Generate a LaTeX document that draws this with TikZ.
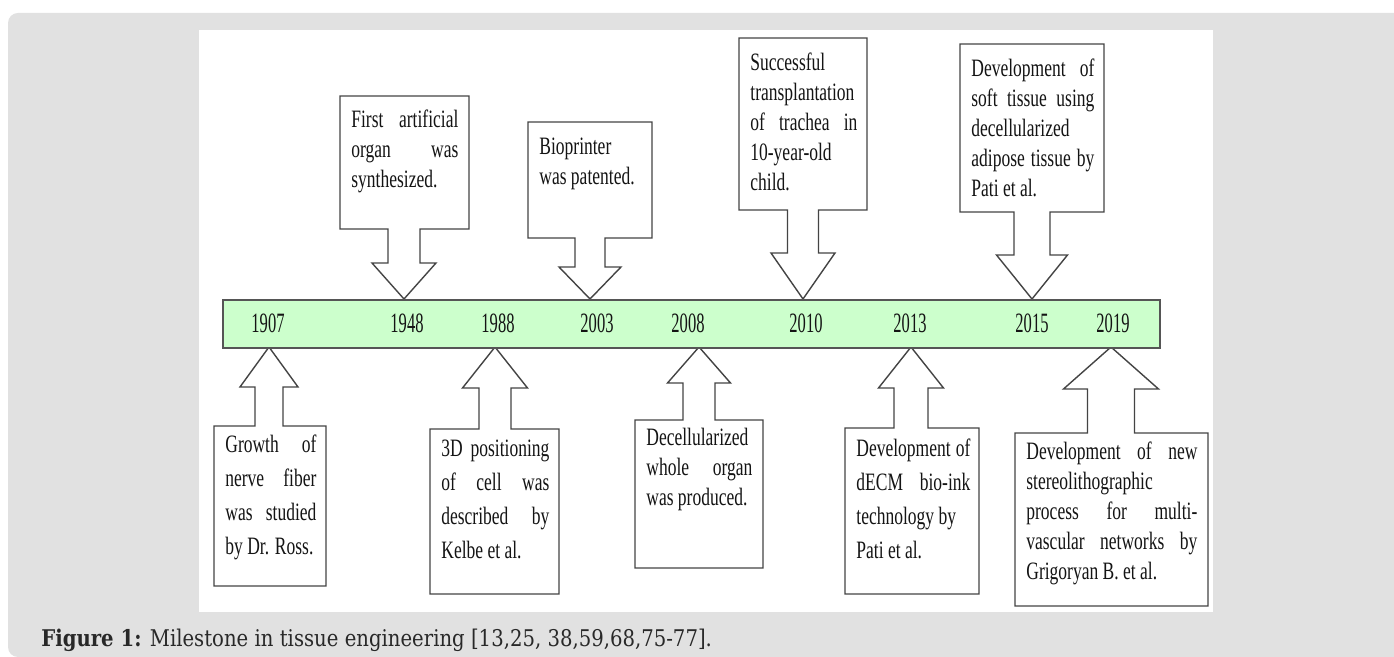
\documentclass[tikz,border=0pt]{standalone}
\usepackage{fontspec}
\setmainfont{Liberation Serif}
\newfontfamily\evfont[FakeStretch=0.70]{Liberation Serif}
\newfontfamily\yrfont[FakeStretch=0.59]{Liberation Serif}
\newfontfamily\capfont[FakeStretch=0.855]{DejaVu Serif}

\definecolor{bggray}{RGB}{225,225,225}
\definecolor{barfill}{RGB}{204,255,204}
\definecolor{bargray}{RGB}{85,85,85}
\definecolor{linegray}{RGB}{68,68,68}
\definecolor{txtgray}{RGB}{20,20,20}
\definecolor{capgray}{RGB}{40,40,40}

\tolerance=10000
\hbadness=10000
\hyphenpenalty=10000

\begin{document}
\begin{tikzpicture}[x=0.5pt,y=-0.5pt,
    evtxt/.style={anchor=base west,inner sep=0pt,align=justify,text=txtgray,
        font=\evfont\fontsize{12.5}{15}\selectfont},
    evwide/.style={evtxt,font=\evfont\fontsize{12.5}{17}\selectfont},
    yearlbl/.style={anchor=base,inner sep=0pt,text=txtgray,
        font=\yrfont\fontsize{14}{15}\selectfont},
    callout/.style={draw=linegray,line width=0.7pt,fill=white}]
    \useasboundingbox (0,0) rectangle (1394,657);
    \clip (0,0) rectangle (1394,657);
    \fill[white] (0,0) rectangle (1394,657);
    \fill[bggray,rounded corners=5pt] (8,13) rectangle (1420,657);
    \fill[white] (199,30) rectangle (1213,612);

    % callouts above the bar, pointing down
    \foreach \xa/\xb/\ya/\yb/\tx/\sw/\hw/\hy in {340/469/96/229/404/16/32/263,
            528/652/122/238/590/15/31/267,
            739/867/38/210/803/15.5/32/253,
            960/1104/44/212/1032/18/35.5/255} {
        \draw[callout] (\xa,\ya) -- (\xb,\ya) -- (\xb,\yb) -- (\tx+\sw,\yb)
            -- (\tx+\sw,\hy) -- (\tx+\hw,\hy) -- (\tx,299) -- (\tx-\hw,\hy)
            -- (\tx-\sw,\hy) -- (\tx-\sw,\yb) -- (\xa,\yb) -- cycle;
    }
    % callouts below the bar, pointing up
    \foreach \xa/\xb/\ya/\yb/\tx/\sw/\hw/\hy in {214/326/426/586/269/14/29/387,
            430/559/429/594/495/16/32.5/388,
            635/763/420/568/699/16/31.5/383,
            845/979/428/594/911/17/32.5/388,
            1015/1208/433/606/1111/23.5/47.5/389} {
        \draw[callout] (\xa,\ya) -- (\tx-\sw,\ya) -- (\tx-\sw,\hy) -- (\tx-\hw,\hy)
            -- (\tx,347) -- (\tx+\hw,\hy) -- (\tx+\sw,\hy) -- (\tx+\sw,\ya)
            -- (\xb,\ya) -- (\xb,\yb) -- (\xa,\yb) -- cycle;
    }

    % time bar
    \node[draw=bargray,fill=barfill,line width=1pt,inner sep=0pt,anchor=north west,
        minimum width=468.5pt,minimum height=24pt] (bar) at (222,299) {};
    \foreach \yr/\xp in {1907/268,1948/407,1988/498,2003/597,2008/688,
            2010/806,2013/910,2015/1032,2019/1113} {
        \node[yearlbl] (y\yr) at (\xp,333) {\yr};
    }

    % texts
    \node[evtxt,text width=53.5pt] (ev1948) at (351,128) {First artificial\linebreak organ was\linebreak synthesized.};
    \node[evtxt,text width=51pt] (ev2003) at (539,155) {Bioprinter\\ was patented.};
    \node[evtxt,text width=53.5pt] (ev2010) at (750,71) {Successful\\ transplantation\\ of trachea in\linebreak 10-year-old\\ child.};
    \node[evtxt,text width=61.5pt] (ev2015) at (971,77) {Development of\linebreak soft tissue using\linebreak decellularized\\ adipose tissue by\linebreak Pati et al.};
    \node[evwide,text width=45.5pt] (ev1907) at (225,453) {Growth of\linebreak nerve fiber\linebreak was studied\linebreak by Dr. Ross.};
    \node[evwide,text width=54pt] (ev1988) at (441,457) {3D positioning\linebreak of cell was\linebreak described by\linebreak Kelbe et al.};
    \node[evtxt,text width=53pt] (ev2008) at (646,446) {Decellularized\\ whole organ\linebreak was produced.};
    \node[evwide,text width=57pt] (ev2013) at (856,457) {Development of\linebreak dECM bio-ink\linebreak technology by\\ Pati et al.};
    \node[evtxt,text width=85.5pt] (ev2019) at (1026,460) {Development of new\linebreak stereolithographic\\ process for multi-\linebreak vascular networks by\linebreak Grigoryan B. et al.};

    \node[anchor=base west,inner sep=0pt,text=capgray,font=\capfont\fontsize{11.5}{13}\selectfont]
        (cap) at (41,647) {\textbf{Figure 1:} Milestone in tissue engineering [13,25, 38,59,68,75-77].};
\end{tikzpicture}
\end{document}
